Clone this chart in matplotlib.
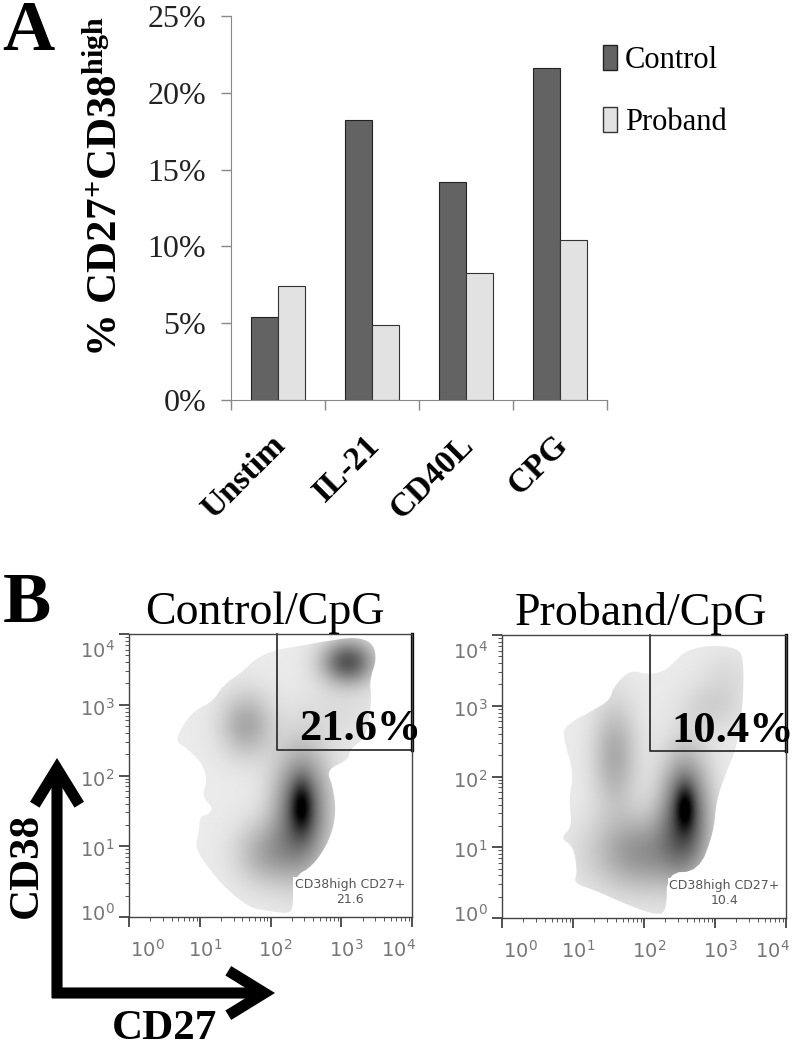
import numpy as np
import matplotlib
matplotlib.use("Agg")
import matplotlib.pyplot as plt
from matplotlib.patches import Patch, Polygon
from matplotlib.transforms import ScaledTranslation

plt.rcParams['font.family'] = ['Liberation Serif', 'DejaVu Serif']
plt.rcParams['mathtext.fontset'] = 'custom'
plt.rcParams['mathtext.rm'] = 'DejaVu Sans'
plt.rcParams['mathtext.bf'] = 'Liberation Serif:bold'

W, H = 792, 1048

# panel A values
categories = ['Unstim', 'IL-21', 'CD40L', 'CPG']
control = [5.4, 18.2, 14.2, 21.6]
proband = [7.4, 4.9, 8.3, 10.4]
pct_ticks = [0, 5, 10, 15, 20, 25]

# panel B, all in decades (log10 of the fluorescence)
decades = [0, 1, 2, 3, 4]
control_outline = [(2.08, 3.78), (1.80, 3.66), (1.61, 3.47), (1.33, 3.28), (1.19, 3.05), (0.91, 2.91),
                   (0.74, 2.67), (0.66, 2.48), (0.81, 2.39), (1.03, 2.18), (1.11, 1.94), (1.03, 1.71),
                   (1.19, 1.54), (1.12, 1.45), (1.00, 1.42), (0.99, 1.19), (0.93, 0.98), (1.14, 0.67),
                   (1.38, 0.39), (1.71, 0.13), (1.94, 0.09), (2.23, 0.05), (2.32, 0.10), (2.33, 0.57),
                   (2.60, 0.72), (2.84, 1.09), (2.93, 1.47), (2.88, 1.85), (2.79, 2.08), (3.10, 2.22),
                   (3.12, 2.37), (3.36, 2.55), (3.43, 3.07), (3.40, 3.35), (3.50, 3.64), (3.45, 3.87),
                   (3.21, 3.96), (2.79, 3.90), (2.41, 3.83)]
proband_outline = [(1.81, 3.51), (1.57, 3.27), (1.52, 3.08), (1.29, 2.94), (0.87, 2.71), (0.87, 2.52),
                   (1.01, 2.05), (0.94, 1.67), (0.99, 1.29), (0.82, 1.13), (1.01, 1.01), (1.06, 0.64),
                   (1.01, 0.49), (1.29, 0.40), (1.71, 0.21), (2.13, 0.05), (2.32, 0.07), (2.32, 0.64),
                   (2.77, 0.66), (2.98, 1.20), (3.02, 1.67), (3.17, 2.09), (3.31, 2.42), (3.40, 3.08),
                   (3.40, 3.69), (3.31, 3.81), (2.98, 3.86), (2.60, 3.79), (2.41, 3.60), (2.27, 3.48),
                   (2.04, 3.44)]
# density clusters: x, y, spread x, spread y, darkness
control_clusters = [(2.44, 1.50, 0.27, 0.58, 0.58), (2.44, 1.56, 0.10, 0.24, 0.38),
                    (1.94, 0.90, 0.30, 0.32, 0.24), (3.10, 3.61, 0.26, 0.22, 0.58),
                    (1.66, 2.72, 0.26, 0.32, 0.26), (2.98, 2.88, 0.40, 0.30, 0.05)]
proband_clusters = [(2.58, 1.50, 0.24, 0.55, 0.58), (2.58, 1.55, 0.09, 0.22, 0.38),
                    (1.99, 0.92, 0.50, 0.38, 0.34), (1.59, 2.28, 0.22, 0.52, 0.25),
                    (2.98, 2.99, 0.30, 0.25, 0.10), (3.17, 3.46, 0.25, 0.25, 0.05)]
gate_x = 2.09
gate_y = 2.36
# nudges of the decade labels in pixels, as they sit in the reference
xlabel_dx = [18, 5, 5, 5, -14]
ylabel_dy = [5, -2, -2, -2, -15]


def px_axes(left, top, right, bottom):
    return fig.add_axes([left / W, 1 - bottom / H, (right - left) / W, (bottom - top) / H])


def nudge(label, dx, dy):
    label.set_transform(label.get_transform() + ScaledTranslation(dx / 100, dy / 100, fig.dpi_scale_trans))


def rounded(points, rounds=2):
    # corner cutting, the population edge is soft in the reference
    p = np.array(points)
    for _ in range(rounds):
        q = np.roll(p, -1, axis=0)
        p = np.column_stack([0.75 * p + 0.25 * q, 0.25 * p + 0.75 * q]).reshape(-1, 2)
    return p


def density_panel(ax, outline, clusters, pct, label_value, label_x, pct_x, pct_y):
    xx, yy = np.meshgrid(np.linspace(0, 4, 400), np.linspace(0, 4, 400))
    z = np.full(xx.shape, 0.08)
    for cx, cy, sx, sy, amp in clusters:
        z += amp * np.exp(-((xx - cx) / sx) ** 2 / 2 - ((yy - cy) / sy) ** 2 / 2)
    im = ax.imshow(z, extent=(0, 4, 0, 4), origin='lower', cmap='gray_r', vmin=0, vmax=1,
                   interpolation='bilinear', aspect='auto')
    clip = Polygon(rounded(outline), closed=True, transform=ax.transData, fill=False, ec='none')
    ax.add_patch(clip)
    im.set_clip_path(clip)

    minor = [d + np.log10(m) for d in decades[:-1] for m in range(2, 10)]
    for axis in (ax.xaxis, ax.yaxis):
        axis.set_ticks(decades)
        axis.set_ticks(minor, minor=True)
    labels = ['$\\mathrm{10^{%d}}$' % d for d in decades]
    ax.set_xticklabels(labels)
    ax.set_yticklabels(labels)
    ax.tick_params(which='major', length=7, width=1.2, color='#333333', labelcolor='#777777', labelsize=14)
    ax.tick_params(axis='x', which='major', pad=9)
    ax.tick_params(which='minor', length=3, width=0.7, color='#555555')
    for lab, dx in zip(ax.get_xticklabels(), xlabel_dx):
        nudge(lab, dx, 0)
    for lab, dy in zip(ax.get_yticklabels(), ylabel_dy):
        nudge(lab, 0, dy)
    for s in ax.spines.values():
        s.set_color('#444444')
        s.set_linewidth(1.0)
    ax.set_xlim(0, 4)
    ax.set_ylim(0, 4)

    # gate
    ax.plot([gate_x, gate_x, 4], [4, gate_y, gate_y], color='#333333', lw=1.3, clip_on=False)
    ax.plot([4, 4], [gate_y, 4], color='black', lw=2.4, clip_on=False)
    ax.text(label_x, 0.35, 'CD38high CD27+\n' + label_value, family='DejaVu Sans', ha='center', va='center',
            fontsize=9, color='#555555', linespacing=1.25,
            bbox=dict(fc='white', ec='none', pad=1))
    ax.text(pct_x, pct_y, pct, ha='right', va='baseline', fontsize=32, fontweight='bold', clip_on=False, zorder=6)


fig = plt.figure(figsize=(W / 100, H / 100), dpi=100)

# panel A
ax = px_axes(231, 16, 607, 400)
pos = np.arange(len(categories))
bw = 0.29
ax.bar(pos - bw / 2, control, bw, color='#636363', edgecolor='#222222', lw=0.8, label='Control')
ax.bar(pos + bw / 2, proband, bw, color='#e2e2e2', edgecolor='#333333', lw=0.8, label='Proband')
ax.set_xlim(-0.5, 3.5)
ax.set_ylim(0, 25)
ax.set_yticks(pct_ticks)
ax.set_yticklabels(['%d%%' % p for p in pct_ticks])
ax.set_xticks(pos)
ax.set_xticklabels(categories, rotation=45, ha='right', rotation_mode='anchor', fontsize=24, fontweight='bold')
ax.set_xticks(np.arange(-0.5, 4), minor=True)
ax.tick_params(axis='x', which='major', length=0, pad=24)
ax.tick_params(axis='x', which='minor', length=7, width=1, color='#888888')
ax.tick_params(axis='y', length=7, width=1, color='#888888', labelsize=23, labelcolor='#222222', pad=11)
for lab in ax.get_xticklabels():
    nudge(lab, -8, 4)
ax.spines['top'].set_visible(False)
ax.spines['right'].set_visible(False)
ax.spines['left'].set_color('#888888')
ax.spines['bottom'].set_color('#888888')
ax.legend(handles=[Patch(fc='#636363', ec='#222222', label='Control'), Patch(fc='#e2e2e2', ec='#333333', label='Proband')],
          loc='upper left', bbox_to_anchor=(0.99, 0.925), bbox_transform=ax.transAxes, frameon=False, fontsize=22, handlelength=0.45,
          handleheight=0.9, handletextpad=0.25, labelspacing=1.05, borderaxespad=0, borderpad=0)

ax.set_ylabel(r'% CD27$\mathbf{^{+}}$CD38$\mathbf{^{high}}$', fontsize=31, fontweight='bold')
ax.yaxis.set_label_coords(-0.28, 0.555)

# panel B
left = px_axes(129, 634, 412, 917)
density_panel(left, control_outline, control_clusters, '21.6%', '21.6', 3.12, 4.13, 2.50)
left.set_title('Control/CpG', fontsize=33, pad=0, x=0.48)

right = px_axes(502, 635, 786, 918)
density_panel(right, proband_outline, proband_clusters, '10.4%', '10.4', 3.13, 4.11, 2.49)
right.set_title('Proband/CpG', fontsize=33, pad=0, x=0.49)

# page-level lettering and arrows
page = fig.add_axes([0, 0, 1, 1], zorder=5)
page.set_xlim(0, W)
page.set_ylim(H, 0)
page.axis('off')
page.text(28, 33, 'A', fontsize=52, fontweight='bold', ha='center', va='center')
page.text(27, 605, 'B', fontsize=52, fontweight='bold', ha='center', va='center')
page.text(27, 866, 'CD38', fontsize=31, fontweight='bold', rotation=90, ha='center', va='center')
page.text(165, 1029, 'CD27', fontsize=31, fontweight='bold', ha='center', va='center')
head = '->,head_length=2.6,head_width=1.6'
page.annotate('', xy=(57, 758), xytext=(57, 998),
              arrowprops=dict(arrowstyle=head, lw=8, color='black', shrinkA=0, shrinkB=0, capstyle='butt', joinstyle='miter'))
page.annotate('', xy=(275, 993), xytext=(52, 993),
              arrowprops=dict(arrowstyle=head, lw=8, color='black', shrinkA=0, shrinkB=0, capstyle='butt', joinstyle='miter'))

fig.savefig('out.png', dpi=100)
